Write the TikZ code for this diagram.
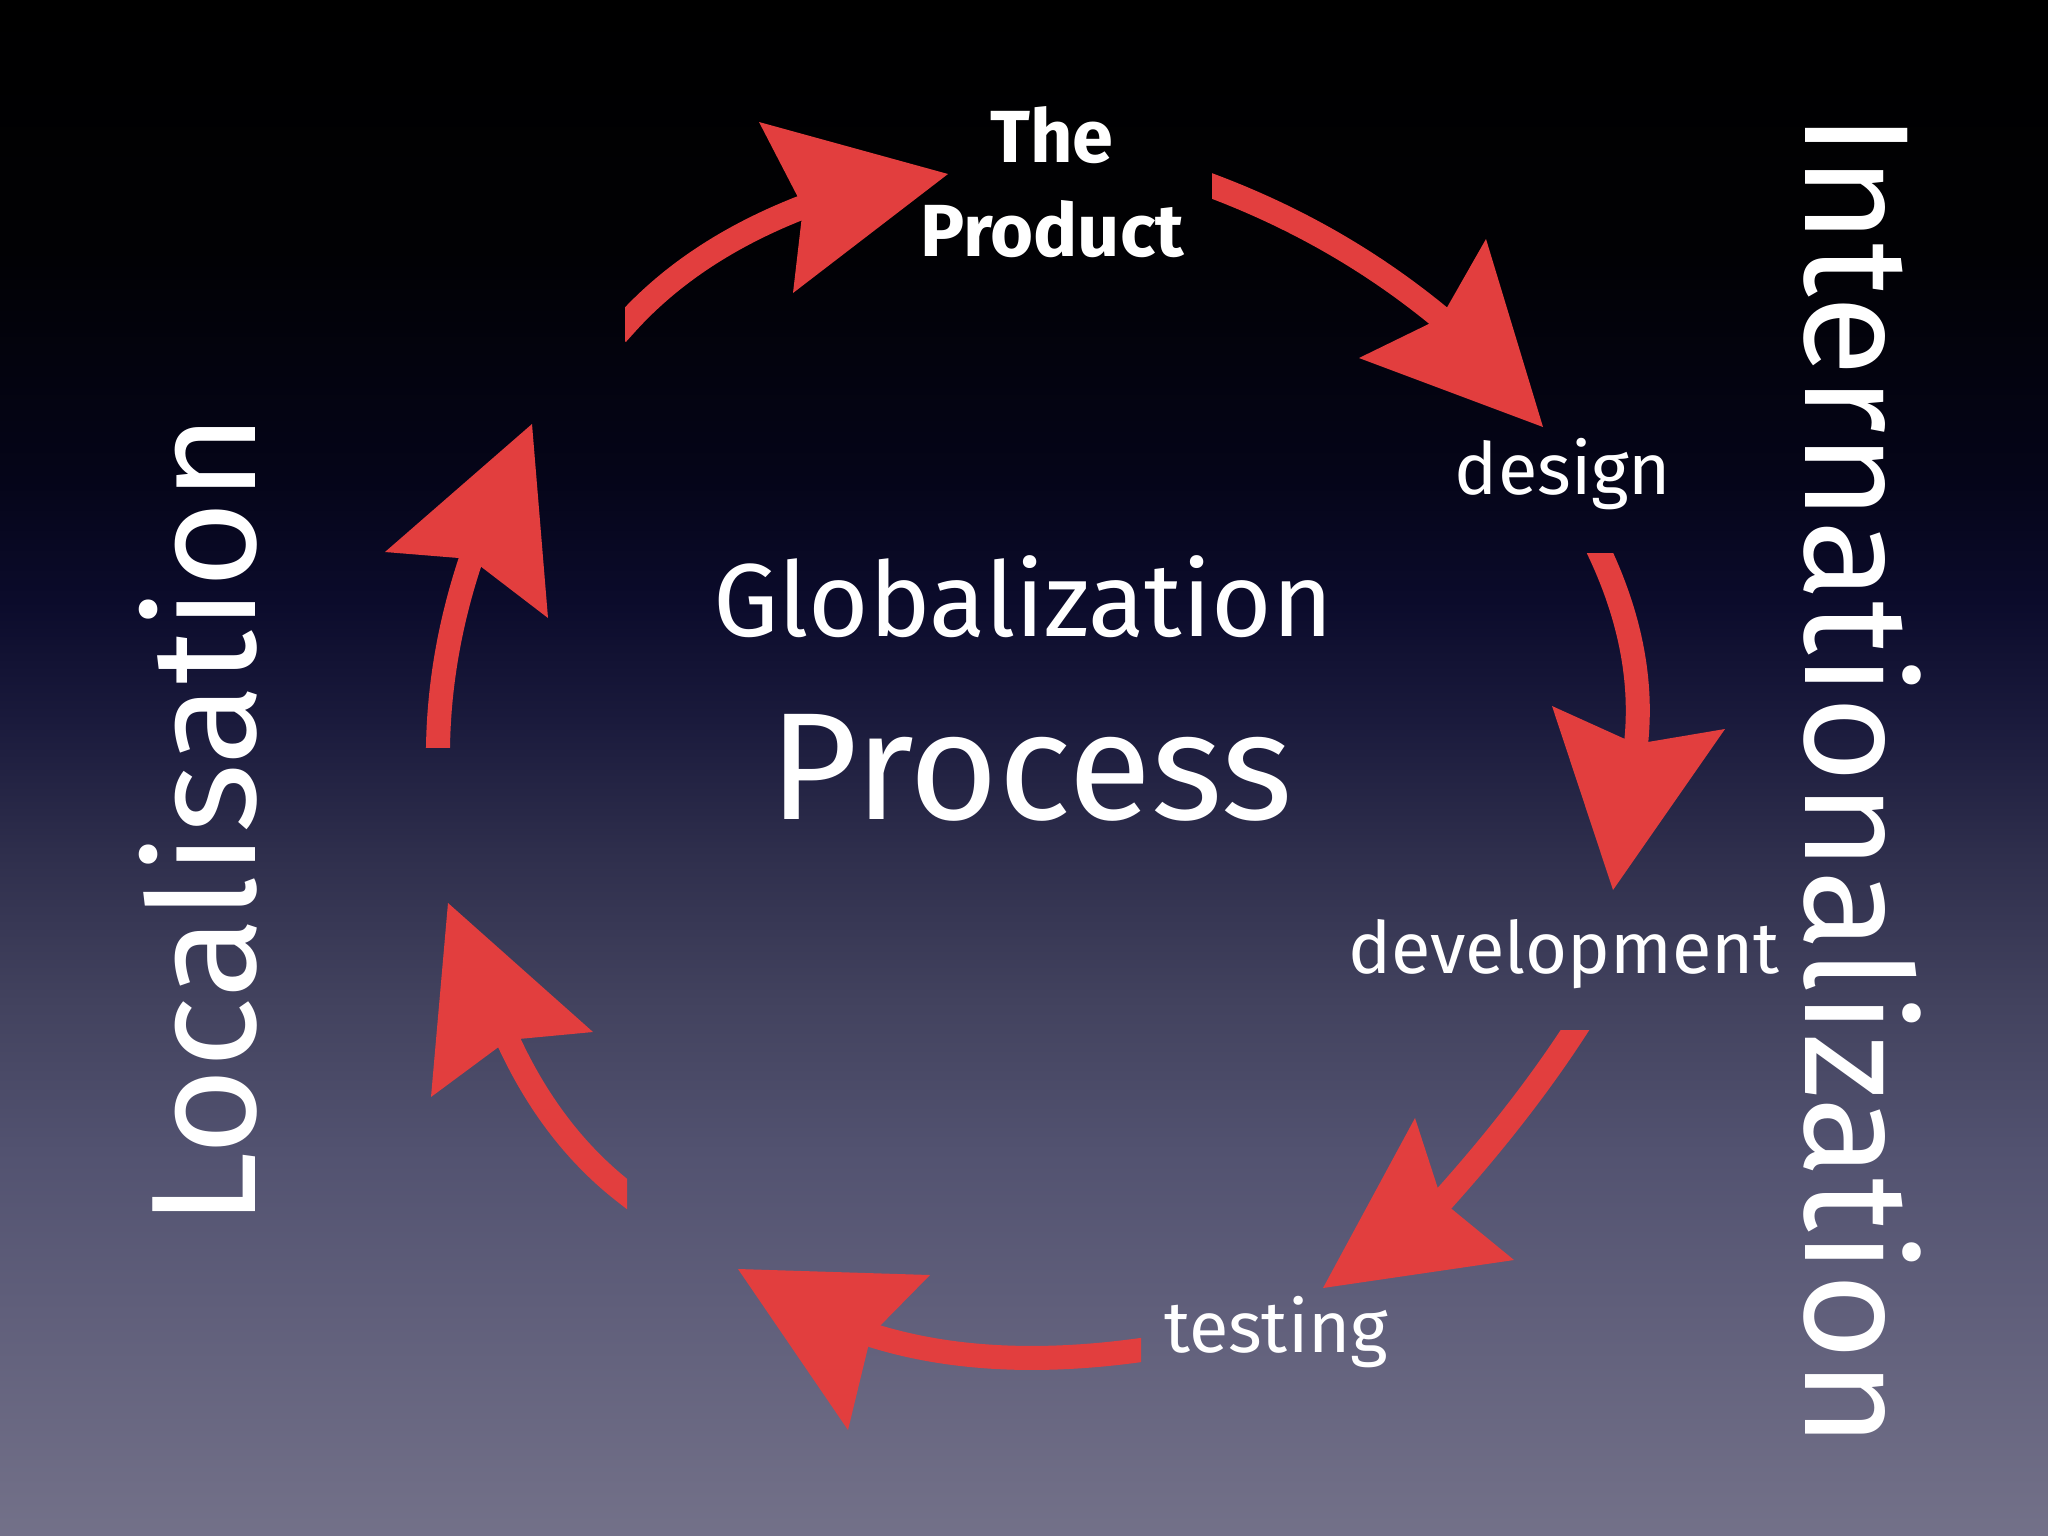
\documentclass[tikz,border=0pt]{standalone}
\usepackage{fontspec}
\setmainfont{Fira Sans}
\definecolor{arrowred}{RGB}{226,62,62}
\definecolor{bgA}{RGB}{0,0,0}
\definecolor{bgB}{RGB}{1,1,4}
\definecolor{bgC}{RGB}{5,5,25}
\definecolor{bgD}{RGB}{11,11,43}
\definecolor{bgE}{RGB}{26,26,60}
\definecolor{bgF}{RGB}{46,46,76}
\definecolor{bgG}{RGB}{66,66,94}
\definecolor{bgH}{RGB}{82,82,112}
\definecolor{bgI}{RGB}{95,94,122}
\definecolor{bgJ}{RGB}{115,113,137}
\tikzset{
  shaft/.style={draw=arrowred, line width=0.24cm, line cap=rect},
  arrowhead/.style={fill=arrowred},
  lbl/.style={text=white, inner sep=0pt},
  smalllbl/.style={lbl, font=\fontsize{20.5}{24}\selectfont, anchor=base},
  sidelbl/.style={lbl, font=\fontsize{42.4}{48}\selectfont, anchor=base},
}
\begin{document}
\begin{tikzpicture}[x=0.01cm,y=-0.01cm]
\useasboundingbox (0,0) rectangle (2048,1536);
% background
\shade[top color=bgA,bottom color=bgB] (0,0) rectangle (2048,251);
\shade[top color=bgB,bottom color=bgC] (0,250) rectangle (2048,481);
\shade[top color=bgC,bottom color=bgD] (0,480) rectangle (2048,601);
\shade[top color=bgD,bottom color=bgE] (0,600) rectangle (2048,721);
\shade[top color=bgE,bottom color=bgF] (0,720) rectangle (2048,851);
\shade[top color=bgF,bottom color=bgG] (0,850) rectangle (2048,1001);
\shade[top color=bgG,bottom color=bgH] (0,1000) rectangle (2048,1151);
\shade[top color=bgH,bottom color=bgI] (0,1150) rectangle (2048,1301);
\shade[top color=bgI,bottom color=bgJ] (0,1300) rectangle (2048,1536);

% arrow 1
\coordinate (a1t) at (625,325); \coordinate (a1c) at (669.7,275); \coordinate (a1d) at (729,235.7);
\coordinate (a1n) at (803,207); \coordinate (a1p) at (948,174);
\coordinate (a1l) at (759,122); \coordinate (a1r) at (793,293);
\begin{scope}\clip (625,0) rectangle (2048,1536);
\draw[shaft] (a1t) .. controls (a1c) and (a1d) .. (a1n);\end{scope}
\fill[arrowhead] (a1l) -- (a1p) -- (a1r) -- (a1n) -- cycle;
% arrow 2
\coordinate (a2t) at (1212,186); \coordinate (a2c) at (1297,218); \coordinate (a2d) at (1373.3,262);
\coordinate (a2n) at (1441,318); \coordinate (a2p) at (1543,427);
\coordinate (a2l) at (1486,239); \coordinate (a2r) at (1359,358);
\begin{scope}\clip (1212,0) rectangle (2048,1536);
\draw[shaft] (a2t) .. controls (a2c) and (a2d) .. (a2n);\end{scope}
\fill[arrowhead] (a2l) -- (a2p) -- (a2r) -- (a2n) -- cycle;
% arrow 3
\coordinate (a3t) at (1600,553); \coordinate (a3c) at (1630.7,618.7); \coordinate (a3d) at (1642.7,682.3);
\coordinate (a3n) at (1636,744); \coordinate (a3p) at (1613,890);
\coordinate (a3l) at (1552,706); \coordinate (a3r) at (1725,729);
\begin{scope}\clip (0,553) rectangle (2048,1536);
\draw[shaft] (a3t) .. controls (a3c) and (a3d) .. (a3n);\end{scope}
\fill[arrowhead] (a3l) -- (a3p) -- (a3r) -- (a3n) -- cycle;
% arrow 4
\coordinate (a4t) at (1575,1030); \coordinate (a4c) at (1539.3,1085); \coordinate (a4d) at (1495,1142);
\coordinate (a4n) at (1442,1201); \coordinate (a4p) at (1323,1288);
\coordinate (a4l) at (1415,1118); \coordinate (a4r) at (1514,1260);
\begin{scope}\clip (0,1030) rectangle (2048,1536);
\draw[shaft] (a4t) .. controls (a4c) and (a4d) .. (a4n);\end{scope}
\fill[arrowhead] (a4l) -- (a4p) -- (a4r) -- (a4n) -- cycle;
% arrow 5
\coordinate (a5t) at (1141,1350); \coordinate (a5c) at (1037.7,1364.3); \coordinate (a5d) at (947.7,1359.3);
\coordinate (a5n) at (871,1335); \coordinate (a5p) at (738,1269);
\coordinate (a5l) at (930,1275); \coordinate (a5r) at (848,1430);
\begin{scope}\clip (0,0) rectangle (1141,1536);
\draw[shaft] (a5t) .. controls (a5c) and (a5d) .. (a5n);\end{scope}
\fill[arrowhead] (a5l) -- (a5p) -- (a5r) -- (a5n) -- cycle;
% arrow 6
\coordinate (a6t) at (627,1194); \coordinate (a6c) at (577.3,1156); \coordinate (a6d) at (537.7,1104.7);
\coordinate (a6n) at (508,1040); \coordinate (a6p) at (448,903);
\coordinate (a6l) at (593,1032); \coordinate (a6r) at (431,1097);
\begin{scope}\clip (0,0) rectangle (627,1536);
\draw[shaft] (a6t) .. controls (a6c) and (a6d) .. (a6n);\end{scope}
\fill[arrowhead] (a6l) -- (a6p) -- (a6r) -- (a6n) -- cycle;
% arrow 7
\coordinate (a7t) at (438,747); \coordinate (a7c) at (439,684.3); \coordinate (a7d) at (450,621.7);
\coordinate (a7n) at (471,559); \coordinate (a7p) at (532,424);
\coordinate (a7l) at (385,552); \coordinate (a7r) at (548,618);
\begin{scope}\clip (0,0) rectangle (2048,747);
\draw[shaft] (a7t) .. controls (a7c) and (a7d) .. (a7n);\end{scope}
\fill[arrowhead] (a7l) -- (a7p) -- (a7r) -- (a7n) -- cycle;

% labels
\node[lbl, font=\bfseries\fontsize{21}{26.7}\selectfont, align=center] (prod) at (1052,182) {The\\Product};
\node[smalllbl] (design) at (1563,494) {design};
\node[smalllbl] (dev) at (1564,973) {development};
\node[smalllbl] (test) at (1276,1352) {testing};
\node[lbl, font=\fontsize{29.5}{34}\selectfont, anchor=base] (glob) at (1023,636) {Globalization};
\node[lbl, font=\fontsize{43.4}{50}\selectfont, anchor=base] (proc) at (1031,819) {Process};
\node[sidelbl, rotate=90] (loc) at (255,820) {Localisation};
\node[sidelbl, font=\fontsize{42.2}{48}\selectfont, rotate=-90] (intl) at (1805,780) {Internationalization};
\end{tikzpicture}
\end{document}
